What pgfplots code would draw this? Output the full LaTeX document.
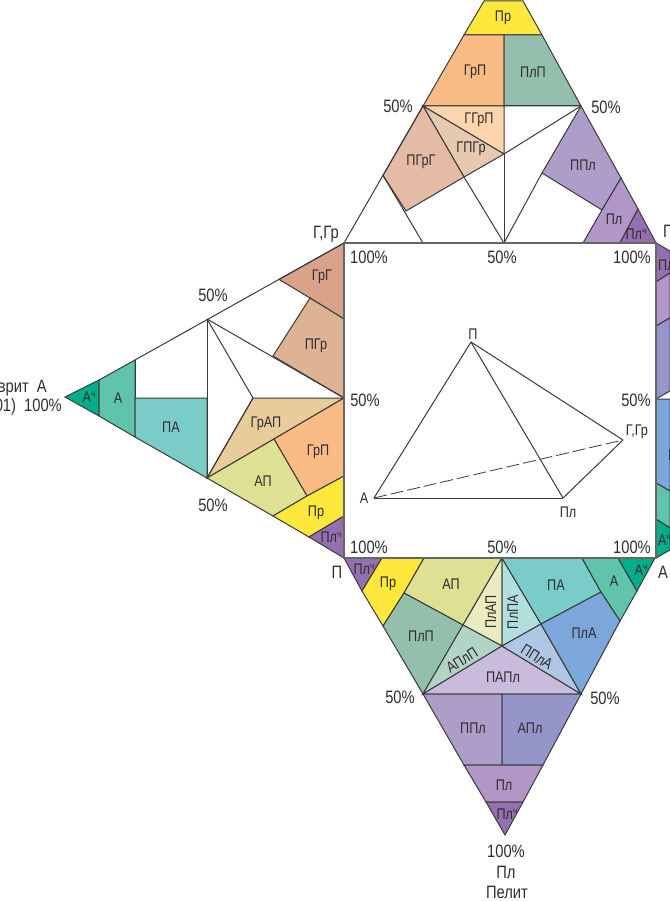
\documentclass[border=0pt]{standalone}
\usepackage{fontspec}
\setmainfont[FakeStretch=0.82]{Liberation Sans}
\usepackage{pgfplots}
\pgfplotsset{compat=1.18}

\definecolor{lin}{HTML}{3A3A3A}
\definecolor{cPr}{HTML}{FFE83C}
\definecolor{cGrP}{HTML}{FBBB85}
\definecolor{cPlP}{HTML}{93BFAC}
\definecolor{cGGrP}{HTML}{FFD5AE}
\definecolor{cGPGr}{HTML}{E6C9AE}
\definecolor{cPGrG}{HTML}{E5BBA5}
\definecolor{cPPl}{HTML}{AD9DC8}
\definecolor{cPl}{HTML}{B296C7}
\definecolor{cPlch}{HTML}{9570B0}
\definecolor{cAch}{HTML}{00AE8C}
\definecolor{cA}{HTML}{60C3AB}
\definecolor{cPA}{HTML}{7ACCC8}
\definecolor{cGrAP}{HTML}{E8CC9A}
\definecolor{cAP}{HTML}{DEE193}
\definecolor{cGrG}{HTML}{D8A389}
\definecolor{cPGr}{HTML}{DDB393}
\definecolor{cPlAP}{HTML}{E9ECC1}
\definecolor{cPlPA}{HTML}{B2DFDE}
\definecolor{cAPlP}{HTML}{B2D4C6}
\definecolor{cPPlA}{HTML}{AFC6E4}
\definecolor{cPAPl}{HTML}{C9BBDC}
\definecolor{cPlA}{HTML}{7BA7DA}
\definecolor{cAPl}{HTML}{9595C9}

% filled cell, plain line, cell label, big label
\newcommand{\cell}[2]{\addplot[fill=#1,draw=lin,line width=1bp] coordinates {#2} --cycle;}
\newcommand{\seg}[1]{\addplot[draw=lin,line width=1bp] coordinates {#1};}
\newcommand{\lab}[3][]{\node[font=\fontsize{15.5}{15.5}\selectfont,text=black!82,inner sep=0pt,#1] at (axis cs:#2) {#3};}
\newcommand{\blab}[3][]{\node[font=\fontsize{18}{18}\selectfont,text=black!82,inner sep=0pt,#1] at (axis cs:#2) {#3};}
\newcommand{\ch}{\raisebox{0.6ex}{\fontsize{10}{10}\selectfont ч}}

\begin{document}
\begin{tikzpicture}
\clip (0,0) rectangle (670bp,901bp);
\begin{axis}[
    at={(0,0)}, anchor=south west,
    scale only axis, width=670bp, height=901bp,
    xmin=0, xmax=670, ymin=0, ymax=901,
    y dir=reverse,
    hide axis,
    clip=false,
]
% top triangle
\cell{cPr}{(484,1)(523,1)(542,35)(464,35)}
\cell{cGrP}{(464,35)(504,35)(504,106)(423,106)}
\cell{cPlP}{(504,35)(542,35)(581,106)(504,106)}
\cell{cGGrP}{(423,106)(504,106)(504,154)}
\cell{cGPGr}{(423,106)(504,154)(464,177)}
\cell{cPGrG}{(423,106)(464,177)(406,211)(383,175.4)}
\cell{cPPl}{(581,106)(621,178)(602,210)(542,173)}
\cell{cPl}{(621,178)(638,209)(620,243)(583,243)(602,210)}
\cell{cPlch}{(638,209)(656,243)(620,243)}
\seg{(344,243)(423,106)}
\seg{(383,175.4)(423,243)}
\seg{(464,177)(504,243)}
\seg{(504,154)(504,243)}
\seg{(504,154)(581,106)}
\seg{(542,173)(504,243)}
\seg{(581,106)(504,106)}
% left triangle
\cell{cAch}{(65,397)(99,380)(99,416)}
\cell{cA}{(99,380)(135,360)(135,437)(99,416)}
\cell{cPA}{(135,398)(207,398)(207,478)(135,437)}
\cell{cGrAP}{(253,398)(344,398)(274,439)(207,478)}
\cell{cGrP}{(344,398)(274,439)(307,496)(344,476)}
\cell{cAP}{(207,478)(274,439)(307,496)(273,516)}
\cell{cPr}{(273,516)(307,496)(344,476)(344,516)(309,537)}
\cell{cPlch}{(309,537)(344,516)(344,558)}
\cell{cGrG}{(344,243)(279,279.4)(310,298)(344,319)}
\cell{cPGr}{(310,298)(344,319)(344,398)(273,356)}
\seg{(135,360)(344,243)}
\seg{(135,360)(135,398)}
\seg{(207,319)(207,478)}
\seg{(207,319)(253,398)}
\seg{(253,398)(207,478)}
\seg{(207,319)(344,398)}
% bottom triangle
\cell{cPlch}{(344,558)(382,558)(362,591)}
\cell{cPr}{(382,558)(424,558)(404,593)(383,626)(362,591)}
\cell{cAP}{(424,558)(502,558)(463,625)(404,593)}
\cell{cPlAP}{(502,558)(502,646)(463,625)}
\cell{cPlP}{(404,593)(463,625)(423,694)(383,626)}
\cell{cAPlP}{(463,625)(502,646)(423,694)}
\cell{cPAPl}{(423,694)(502,646)(581,694)}
\cell{cPlPA}{(502,558)(541,624)(502,646)}
\cell{cPPlA}{(502,646)(541,624)(581,694)}
\cell{cPA}{(502,558)(582,558)(601,592)(541,624)}
\cell{cA}{(582,558)(618,558)(637,591)(620,621)(601,592)}
\cell{cAch}{(618,558)(655,558)(637,591)}
\cell{cPlA}{(601,592)(620,621)(581,694)(541,624)}
\cell{cPPl}{(423,694)(502,694)(502,765)(464,765)}
\cell{cAPl}{(502,694)(581,694)(543,765)(502,765)}
\cell{cPl}{(464,765)(543,765)(523,802)(486,802)}
\cell{cPlch}{(486,802)(523,802)(505,835)}
% right triangle, cut by the page edge
\cell{cPlch}{(656,243)(670,251)(670,273)(656,282)}
\cell{cPl}{(656,282)(670,273)(670,318)(656,326)}
\cell{cAPl}{(656,326)(670,318)(670,391)(656,399)}
\cell{cPlA}{(656,399)(670,399)(670,491)(656,483)}
\cell{cA}{(656,483)(670,491)(670,528)(656,519)}
\cell{cAch}{(656,519)(670,528)(670,550)(656,558)}
% central square
\addplot[fill=white,draw=black!60,line width=1.2bp] coordinates {(344,243)(656,243)(656,558)(344,558)} --cycle;
\seg{(374,498)(471,342)}
\seg{(471,342)(563,498)}
\seg{(471,342)(623,440)}
\seg{(374,498)(563,498)}
\seg{(563,498)(623,440)}
\addplot[draw=lin,line width=0.8bp,dash pattern=on 13bp off 4bp] coordinates {(374,498)(623,440)};

% top labels
\lab{503,18}{Пр}
\lab{475,72}{ГрП}
\lab{533,72}{ПлП}
\lab{479,120}{ГГрП}
\lab{471,149}{ГПГр}
\lab{421,162}{ПГрГ}
\lab{583,165}{ППл}
\lab{614,219}{Пл}
\lab{636,234}{Пл\ch}
\blab{398,106}{50\%}
\blab{606,107}{50\%}
\blab{326,234}{Г,Гр}
% square labels
\blab{369,257}{100\%}
\blab{502,257}{50\%}
\blab{632,257}{100\%}
\blab{365,400}{50\%}
\blab{636,400}{50\%}
\blab{369,547}{100\%}
\blab{502,547}{50\%}
\blab{632,547}{100\%}
\lab{473,334}{П}
\lab{364,498}{А}
\lab{568,512}{Пл}
\lab{637,432}{Г,Гр}
% left labels
\lab{89,397}{А\ch}
\lab{118,398}{А}
\lab{171,427}{ПА}
\blab{213,295}{50\%}
\blab{213,505}{50\%}
\lab{266,424}{ГрАП}
\lab{318,452}{ГрП}
\lab{263,481}{АП}
\lab{316,513}{Пр}
\lab{331,537}{Пл\ch}
\lab{322,277}{ГрГ}
\lab{316,346}{ПГр}
\blab[anchor=east]{47,388}{Алеврит\ \ А}
\blab[anchor=east]{62,407}{(0,1--0,01)\ \ 100\%}
% bottom labels
\blab{337,572}{П}
\lab{364,569}{Пл\ch}
\lab{388,584}{Пр}
\lab{451,584}{АП}
\lab{556,585}{ПА}
\lab{614,581}{А}
\lab{641,570}{А\ch}
\blab{663,572}{А}
\lab{421,636}{ПлП}
\lab[rotate=90]{491,612}{ПлАП}
\lab[rotate=90]{513,612}{ПлПА}
\lab{584,633}{ПлА}
\lab[rotate=32]{462,660}{АПлП}
\lab[rotate=-32]{537,657}{ППлА}
\lab{503,677}{ПАПл}
\blab{400,697}{50\%}
\blab{605,698}{50\%}
\lab{473,728}{ППл}
\lab{530,728}{АПл}
\lab{504,785}{Пл}
\lab{507,814}{Пл\ch}
\blab{506,851}{100\%}
\blab{506,872}{Пл}
\blab{507,892}{Пелит}
% right labels, cut by the page edge
\blab[anchor=west]{663,233}{Г,Гр}
\lab[anchor=west]{658,265}{Пл\ch}
\lab[anchor=west]{668,455}{ПлА}
\lab[anchor=west]{658,540}{А\ch}
\end{axis}
\end{tikzpicture}
\end{document}
